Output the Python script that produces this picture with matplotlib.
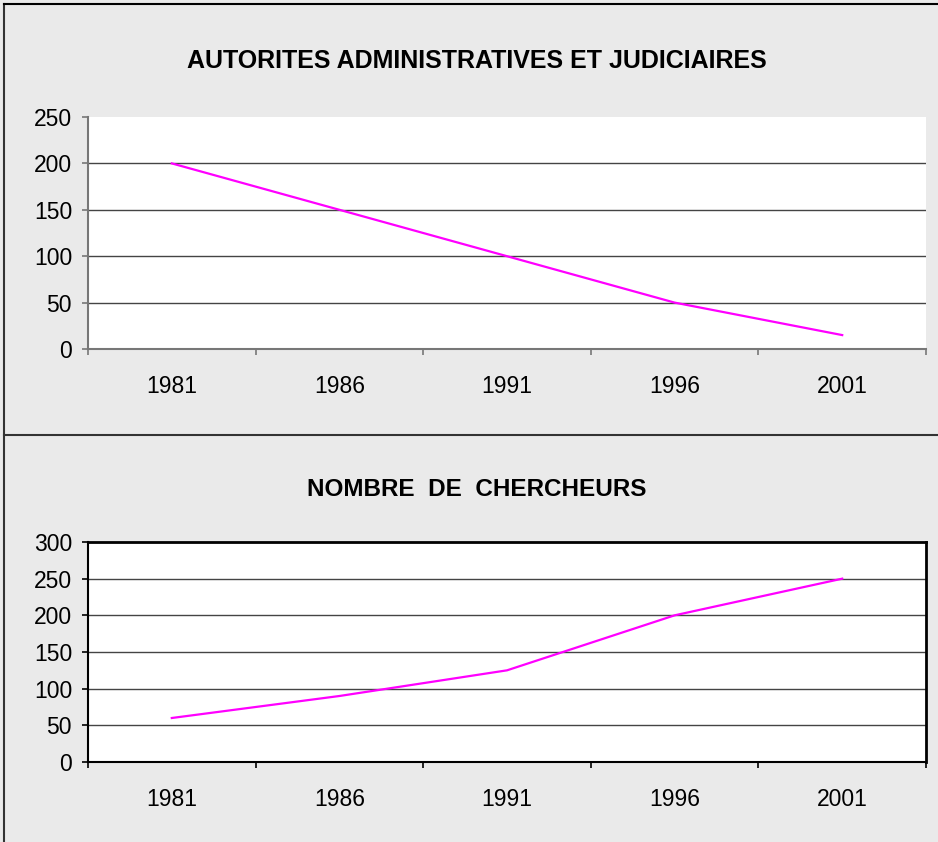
import matplotlib.pyplot as plt
from matplotlib.lines import Line2D

plt.rcParams['font.family'] = ['Liberation Sans', 'DejaVu Sans']

years = ['1981', '1986', '1991', '1996', '2001']
autorites = [200, 150, 100, 50, 15]
chercheurs = [60, 90, 125, 200, 250]

W, H = 938, 842
fig = plt.figure(figsize=(W / 100, H / 100), dpi=100)
fig.patch.set_facecolor('#eaeaea')


def px_axes(left, top, right, bottom):
    return fig.add_axes([left / W, 1 - bottom / H, (right - left) / W, (bottom - top) / H])


def style(ax, values, ymax, axcol, framed):
    ax.set_facecolor('white')
    x = range(len(values))
    ax.plot(x, values, color='#ff00ff', lw=1.6, zorder=3)
    ax.set_xlim(-0.5, len(values) - 0.5)
    ax.set_ylim(0, ymax)
    ax.set_yticks(range(0, ymax + 1, 50))
    ax.set_xticks(list(x))
    ax.set_xticklabels(years)
    ax.set_xticks([i - 0.5 for i in range(len(values) + 1)], minor=True)
    ax.tick_params(axis='x', which='major', length=0, pad=19, labelsize=16.5)
    ax.tick_params(axis='x', which='minor', length=4.5, direction='out', color=axcol, width=1.2)
    ax.tick_params(axis='y', length=4.5, direction='out', color=axcol, width=1.2, labelsize=16.5, pad=7)
    for v in range(50, ymax, 50):
        ax.axhline(v, color='#444444', lw=1, zorder=1)
    for s in ['left', 'bottom']:
        ax.spines[s].set_color(axcol)
        ax.spines[s].set_linewidth(1.5)
    for s in ['top', 'right']:
        ax.spines[s].set_visible(framed)
        ax.spines[s].set_color('black')
        ax.spines[s].set_linewidth(2)


ax1 = px_axes(88, 117, 926, 349)
style(ax1, autorites, 250, '#777777', False)

ax2 = px_axes(88, 542, 926, 762)
style(ax2, chercheurs, 300, 'black', True)

fig.text(477 / W, 1 - 61 / H, 'AUTORITES ADMINISTRATIVES ET JUDICIAIRES',
         ha='center', va='center', fontsize=18, fontweight='bold')
fig.text(477 / W, 1 - 489 / H, 'NOMBRE  DE  CHERCHEURS',
         ha='center', va='center', fontsize=17.5, fontweight='bold')

# panel borders
fig.add_artist(Line2D([4 / W, 4 / W], [0, 1 - 4 / H], transform=fig.transFigure, color='#333333', lw=1.5))
fig.add_artist(Line2D([4 / W, 1], [1 - 4 / H, 1 - 4 / H], transform=fig.transFigure, color='black', lw=1.5))
fig.add_artist(Line2D([4 / W, 1], [1 - 435 / H, 1 - 435 / H], transform=fig.transFigure, color='#333333', lw=1.5))

fig.savefig('out.png', dpi=100, facecolor=fig.get_facecolor())
